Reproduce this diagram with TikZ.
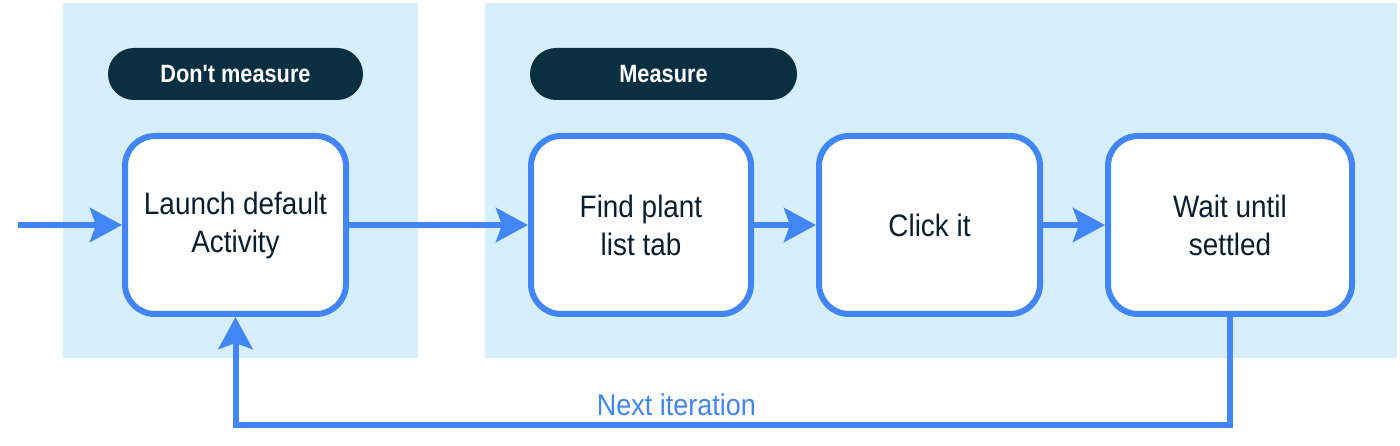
\documentclass[tikz,border=0pt]{standalone}
\usepackage{fontspec}
\newfontfamily\boxfont{Liberation Sans}[FakeStretch=0.9]
\newfontfamily\pillfont{Liberation Sans Bold}[FakeStretch=0.87]
\usetikzlibrary{arrows.meta}
\definecolor{panel}{HTML}{D7EEFC}
\definecolor{gblue}{HTML}{4285F4}
\definecolor{pill}{HTML}{0B2F42}
\definecolor{ink}{HTML}{0A1E2E}
\tikzset{
  stepbox/.style={draw=gblue, line width=6pt, fill=white, rounded corners=30pt,
    minimum height=178pt, align=center, font=\boxfont\fontsize{31}{38}\selectfont, text=ink},
  pillbox/.style={fill=pill, rounded corners=26pt, minimum height=52pt,
    text=white, font=\pillfont\fontsize{25}{30}\selectfont},
  flow/.style={draw=gblue, line width=6pt, line join=miter,
    -{Stealth[length=32pt,width=34pt,inset=6pt]}},
  panelbox/.style={fill=panel, draw=none}
}
\begin{document}
\begin{tikzpicture}[x=1pt,y=-1pt]
\useasboundingbox (0,0) rectangle (1400,446);
\fill[white] (0,0) rectangle (1400,446);
% panels
\path[panelbox] (63,3) rectangle (418,358);
\path[panelbox] (485,3) rectangle (1397,358);
% pills
\node[pillbox, minimum width=255pt] (p1) at (235.5,74) {Don't measure};
\node[pillbox, minimum width=267pt] (p2) at (663.5,74) {Measure};
% boxes
\node[stepbox, minimum width=221pt] (l) at (235.5,225) {Launch default\\Activity};
\node[stepbox, minimum width=220pt] (f) at (641,225) {Find plant\\list tab};
\node[stepbox, minimum width=221pt] (c) at (929.5,225) {Click it};
\node[stepbox, minimum width=244pt] (w) at (1230,225) {Wait until\\settled};
% connectors
\coordinate (in) at (18,225);
\coordinate (lb) at (235.5,425);
\draw[flow] (in) -- (l.west);
\draw[flow] (l.east) -- (f.west);
\draw[flow] (f.east) -- (c.west);
\draw[flow] (c.east) -- (w.west);
\draw[flow] (w.south) |- (lb) -- (l.south);
\node[anchor=base, text=gblue, font=\boxfont\fontsize{30}{36}\selectfont] (ni) at (676.5,415) {Next iteration};
\end{tikzpicture}
\end{document}
